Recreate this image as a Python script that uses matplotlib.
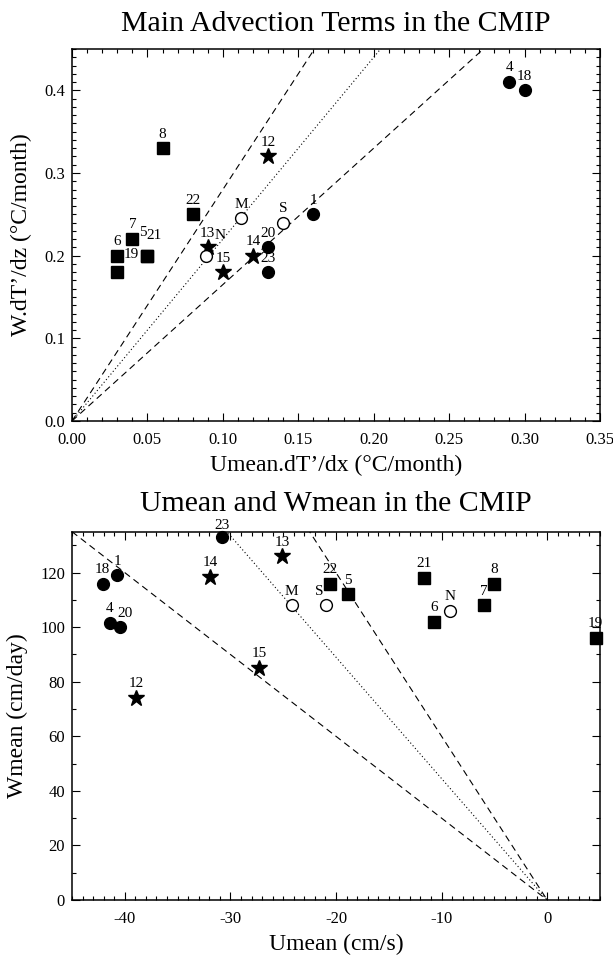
import matplotlib
matplotlib.use("Agg")
import matplotlib.pyplot as plt
from matplotlib.ticker import MultipleLocator, FormatStrFormatter
import numpy as np

plt.rcParams['font.family'] = ['Liberation Serif', 'DejaVu Serif']
plt.rcParams['axes.unicode_minus'] = False

# ---- data ----
circle_labels = ['1', '4', '18', '20', '23']
circle_adv_u = [0.16, 0.29, 0.30, 0.13, 0.13]
circle_adv_w = [0.25, 0.41, 0.40, 0.21, 0.18]
circle_umean = [-40.7, -41.4, -42.1, -40.5, -30.8]
circle_wmean = [119, 101.5, 116, 100, 133]

square_labels = ['5', '6', '7', '8', '19', '21', '22']
square_adv_u = [0.05, 0.03, 0.04, 0.06, 0.03, 0.05, 0.08]
square_adv_w = [0.20, 0.20, 0.22, 0.33, 0.18, 0.20, 0.25]
square_umean = [-18.9, -10.7, -6.0, -5.0, 4.6, -11.7, -20.6]
square_wmean = [112, 102, 108, 116, 96, 118, 116]

star_labels = ['12', '13', '14', '15']
star_adv_u = [0.13, 0.09, 0.12, 0.10]
star_adv_w = [0.32, 0.21, 0.20, 0.18]
star_umean = [-38.9, -25.1, -31.9, -27.3]
star_wmean = [74, 126, 118.5, 85]

open_labels = ['M', 'N', 'S']
open_adv_u = [0.112, 0.089, 0.14]
open_adv_w = [0.245, 0.20, 0.24]
open_umean = [-24.2, -9.2, -20.9]
open_wmean = [108, 106, 108]

# reference line slopes (through origin)
top_slopes = [2.8, 2.2, 1.65]      # dashed, dotted, dashed
bot_slopes = [-6.0, -4.45, -3.0]   # dashed, dotted, dashed
line_styles = ['dashed', 'dotted', 'dashed']

# label offsets in points (default above)
top_offsets = {'5': (-3, 12), '21': (5, 10), '19': (10, 8), 'N': (10, 10)}
bot_offsets = {'20': (4, 5.5), 'S': (-5, 5.5), '23': (0, 4)}

fig = plt.figure(figsize=(6.13, 9.57), dpi=100)
ax1 = fig.add_axes([72/613, 1-421/957, 528/613, 372/957])
ax2 = fig.add_axes([72/613, 57/957, 528/613, 368.3/957])

dash = (0, (6, 4))


def draw(ax, xs_list, ys_list, slopes, xlim, ylim, offsets):
    xx = np.linspace(min(xlim[0], 0), max(xlim[1], 0), 400)
    for s, ls in zip(slopes, line_styles):
        style = dash if ls == 'dashed' else (0, (1, 2.2))
        ax.plot(xx, s * xx, color='black', lw=0.8, linestyle=style, zorder=1)
    groups = [
        (circle_labels, xs_list[0], ys_list[0], dict(marker='o', ms=8.5, mfc='black', mec='black')),
        (square_labels, xs_list[1], ys_list[1], dict(marker='s', ms=8.5, mfc='black', mec='black')),
        (star_labels, xs_list[2], ys_list[2], dict(marker='*', ms=12, mfc='black', mec='black')),
        (open_labels, xs_list[3], ys_list[3], dict(marker='o', ms=8.5, mfc='white', mec='black', mew=1.0)),
    ]
    for labs, xs, ys, kw in groups:
        ax.plot(xs, ys, linestyle='none', zorder=3, clip_on=False, **kw)
        for lab, x, y in zip(labs, xs, ys):
            off = offsets.get(lab, (0, 5.5))
            ax.annotate(lab, (x, y), xytext=off, textcoords='offset points',
                        ha='center', va='bottom', fontsize=11, zorder=4,
                        annotation_clip=False)
    ax.set_xlim(*xlim)
    ax.set_ylim(*ylim)
    ax.tick_params(which='both', direction='in', top=True, right=True,
                   labelsize=12, width=0.8)
    ax.tick_params(which='major', length=6)
    ax.tick_params(which='minor', length=3.2)
    ax.tick_params(axis='x', which='major', pad=8)
    ax.tick_params(axis='y', which='major', pad=5)
    for sp in ax.spines.values():
        sp.set_linewidth(1.1)


draw(ax1, [circle_adv_u, square_adv_u, star_adv_u, open_adv_u],
     [circle_adv_w, square_adv_w, star_adv_w, open_adv_w],
     top_slopes, (0, 0.35), (0, 0.45), top_offsets)
ax1.xaxis.set_major_locator(MultipleLocator(0.05))
ax1.xaxis.set_minor_locator(MultipleLocator(0.01))
ax1.yaxis.set_major_locator(MultipleLocator(0.1))
ax1.yaxis.set_minor_locator(MultipleLocator(0.01))
ax1.xaxis.set_major_formatter(FormatStrFormatter('%.2f'))
ax1.yaxis.set_major_formatter(FormatStrFormatter('%.1f'))
ax1.set_title('Main Advection Terms in the CMIP', fontsize=21.5, pad=13)
ax1.set_xlabel('Umean.dT\u2019/dx (\u00b0C/month)', fontsize=17, labelpad=5)
ax1.set_ylabel('W.dT\u2019/dz (\u00b0C/month)', fontsize=17, labelpad=9)

draw(ax2, [circle_umean, square_umean, star_umean, open_umean],
     [circle_wmean, square_wmean, star_wmean, open_wmean],
     bot_slopes, (-45, 5), (0, 135), bot_offsets)
ax2.xaxis.set_major_locator(MultipleLocator(10))
ax2.xaxis.set_minor_locator(MultipleLocator(1))
ax2.yaxis.set_major_locator(MultipleLocator(20))
ax2.yaxis.set_minor_locator(MultipleLocator(10))
ax2.set_title('Umean and Wmean in the CMIP', fontsize=21.5, pad=15)
ax2.set_xlabel('Umean (cm/s)', fontsize=17, labelpad=5)
ax2.set_ylabel('Wmean (cm/day)', fontsize=17, labelpad=9)

fig.savefig('out.png', dpi=100)
